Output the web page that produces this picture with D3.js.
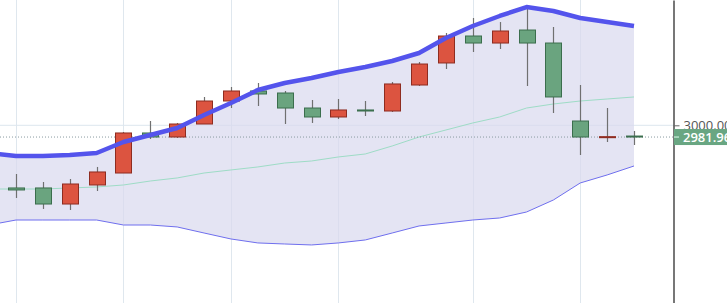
<!DOCTYPE html>
<html lang="en">
<head>
  <meta charset="utf-8">
  <title>Candlestick with Bollinger bands</title>
  <script src="https://cdn.jsdelivr.net/npm/d3@7"></script>
  <style>
  body { margin: 0; background: #fff; }
  #chart { width: 727px; height: 303px; overflow: hidden; }
  </style>
</head>
<body>

<div id="chart"></div>

<script>
// candle data (index 0..23)
var opens  = [2903.6, 2903.6, 2878.9, 2908.2, 2926.6, 2988.2, 2982.0, 3002.0, 3037.4, 3052.8, 3049.7, 3026.6,
              3012.8, 3023.6, 3022.0, 3062.0, 3095.9, 3137.4, 3126.6, 3146.6, 3126.6, 3006.6, 2981.0, 2983.5];
var highs  = [2925.1, 2912.8, 2917.4, 2935.9, 2989.7, 3006.6, 3003.6, 3043.6, 3058.9, 3065.1, 3052.8, 3038.9,
              3040.5, 3037.4, 3066.6, 3097.4, 3142.0, 3165.1, 3158.9, 3183.6, 3151.3, 3062.0, 3026.6, 2991.3];
var lows   = [2888.2, 2871.3, 2869.7, 2898.9, 2926.6, 2978.9, 2980.5, 3002.0, 3026.6, 3029.7, 3002.0, 3003.6,
              3009.7, 3014.3, 3020.5, 3060.5, 3086.6, 3112.8, 3117.4, 3060.5, 3018.9, 2954.3, 2974.3, 2969.7];
var closes = [2900.5, 2878.9, 2909.7, 2928.2, 2988.2, 2982.0, 3002.0, 3037.4, 3052.8, 3048.2, 3026.6, 3012.8,
              3023.6, 3022.0, 3063.6, 3094.3, 3137.4, 3126.6, 3145.1, 3126.6, 3043.6, 2982.0, 2982.5, 2981.96];

// bollinger bands (index -1..23)
var upperBand = [2957.4, 2952.8, 2952.8, 2954.3, 2957.4, 2974.3, 2985.1, 2995.9, 3015.9, 3034.3, 3054.3, 3065.1, 3072.8,
                 3082.0, 3089.7, 3098.9, 3111.3, 3134.3, 3152.8, 3168.2, 3182.0, 3175.9, 3165.1, 3158.9, 3152.8];
var middleBand = [2902.0, 2902.0, 2902.0, 2903.6, 2905.1, 2908.2, 2914.3, 2919.0, 2926.6, 2931.3, 2935.9, 2942.0, 2945.1,
                  2951.3, 2955.9, 2968.2, 2982.0, 2992.8, 3003.6, 3012.8, 3026.6, 3032.8, 3037.4, 3040.5, 3043.6];
var lowerBand = [2846.6, 2854.3, 2854.3, 2854.3, 2854.3, 2846.6, 2846.6, 2843.6, 2834.3, 2825.1, 2819.0, 2817.4, 2815.9,
                 2819.0, 2823.6, 2834.3, 2845.1, 2849.7, 2854.3, 2857.4, 2866.6, 2885.1, 2911.3, 2923.6, 2937.4];

var gridIdx = [0, 4, 8, 12, 17, 21];
var yTicks = [3000];
var lastPrice = 2981.96;

var width = 727, height = 303, plotRight = 673;

var svg = d3.select("#chart")
  .append("svg")
    .attr("width", width)
    .attr("height", height);

var x = d3.scaleLinear()
  .domain([0, 23])
  .range([16, 634]);

var y = d3.scaleLinear()
  .domain([2726.6, 3192.8])
  .range([height, 0]);

var candles = opens.map(function(o, i) {
  return {i: i, open: o, high: highs[i], low: lows[i], close: closes[i]};
});
var bands = upperBand.map(function(u, k) {
  return {i: k - 1, upper: u, middle: middleBand[k], lower: lowerBand[k]};
});

// grid
svg.selectAll(".vgrid")
  .data(gridIdx)
  .enter()
  .append("line")
    .attr("x1", function(d) { return Math.round(x(d)) + 0.5; })
    .attr("x2", function(d) { return Math.round(x(d)) + 0.5; })
    .attr("y1", 0)
    .attr("y2", height)
    .attr("stroke", "#dfe7ee")
    .attr("stroke-width", 1);

svg.selectAll(".hgrid")
  .data(yTicks)
  .enter()
  .append("line")
    .attr("x1", 0)
    .attr("x2", plotRight)
    .attr("y1", function(d) { return y(d); })
    .attr("y2", function(d) { return y(d); })
    .attr("stroke", "#dde6ee")
    .attr("stroke-width", 1);

// band fill
var area = d3.area()
  .x(function(d) { return x(d.i); })
  .y0(function(d) { return y(d.lower); })
  .y1(function(d) { return y(d.upper); });

svg.append("path")
  .datum(bands)
  .attr("d", area)
  .attr("fill", "#d9d9ee")
  .attr("fill-opacity", 0.7);

function bandLine(key) {
  return d3.line()
    .x(function(d) { return x(d.i); })
    .y(function(d) { return y(d[key]); });
}

svg.append("path")
  .datum(bands)
  .attr("d", bandLine("lower"))
  .attr("fill", "none")
  .attr("stroke", "#6f6fee")
  .attr("stroke-width", 1);

svg.append("path")
  .datum(bands)
  .attr("d", bandLine("middle"))
  .attr("fill", "none")
  .attr("stroke", "#9edcc6")
  .attr("stroke-width", 1);

// last price dotted line
svg.append("line")
  .attr("x1", 0)
  .attr("x2", plotRight)
  .attr("y1", y(lastPrice))
  .attr("y2", y(lastPrice))
  .attr("stroke", "#8a9aa0")
  .attr("stroke-width", 1)
  .attr("stroke-dasharray", "1,2");

// candles
var bw = 16;
var g = svg.append("g");

g.selectAll(".wick")
  .data(candles)
  .enter()
  .append("line")
    .attr("x1", function(d) { return Math.round(x(d.i)) + 0.5; })
    .attr("x2", function(d) { return Math.round(x(d.i)) + 0.5; })
    .attr("y1", function(d) { return y(d.high); })
    .attr("y2", function(d) { return y(d.low); })
    .attr("stroke", "#707070")
    .attr("stroke-width", 1.2);

g.selectAll(".body")
  .data(candles)
  .enter()
  .append("rect")
    .attr("x", function(d) { return Math.round(x(d.i)) - bw / 2 + 0.5; })
    .attr("y", function(d) { return y(Math.max(d.open, d.close)); })
    .attr("width", bw)
    .attr("height", function(d) { return Math.max(1, Math.abs(y(d.open) - y(d.close))); })
    .attr("fill", function(d) { return d.close > d.open ? "#dc5440" : "#6aa47f"; })
    .attr("stroke", function(d) { return d.close > d.open ? "#8e2c20" : "#3b6e4d"; })
    .attr("stroke-width", 1);

// upper band (thick, on top)
svg.append("path")
  .datum(bands)
  .attr("d", bandLine("upper"))
  .attr("fill", "none")
  .attr("stroke", "#5454ec")
  .attr("stroke-width", 4.5)
  .attr("stroke-linejoin", "round");

// y axis
var yAxis = d3.axisRight(y)
  .tickValues(yTicks)
  .tickFormat(d3.format(".2f"))
  .tickSize(6)
  .tickSizeOuter(0)
  .tickPadding(4);

var ax = svg.append("g")
  .attr("transform", "translate(" + (plotRight + 0.5) + ",0)")
  .call(yAxis);

ax.select(".domain").attr("stroke", "#4a4a4a").attr("stroke-width", 1.5);
ax.selectAll(".tick line").attr("stroke", "#666");
ax.selectAll(".tick text")
  .attr("fill", "#555")
  .style("font-family", "'Open Sans', sans-serif")
  .style("font-size", "13px");

// last price label
var lp = svg.append("g")
  .attr("transform", "translate(" + (plotRight + 1) + "," + y(lastPrice) + ")");

lp.append("rect")
  .attr("x", 0)
  .attr("y", -8)
  .attr("width", 60)
  .attr("height", 16)
  .attr("fill", "#69a682");

lp.append("line")
  .attr("x1", 0)
  .attr("x2", 5)
  .attr("stroke", "#dfe")
  .attr("stroke-width", 1);

lp.append("text")
  .attr("x", 9)
  .attr("y", 0)
  .attr("dy", "0.35em")
  .attr("fill", "#fff")
  .style("font-family", "'Open Sans', sans-serif")
  .style("font-size", "13px")
  .style("font-weight", "600")
  .text(d3.format(".2f")(lastPrice));

</script>

</body>
</html>
